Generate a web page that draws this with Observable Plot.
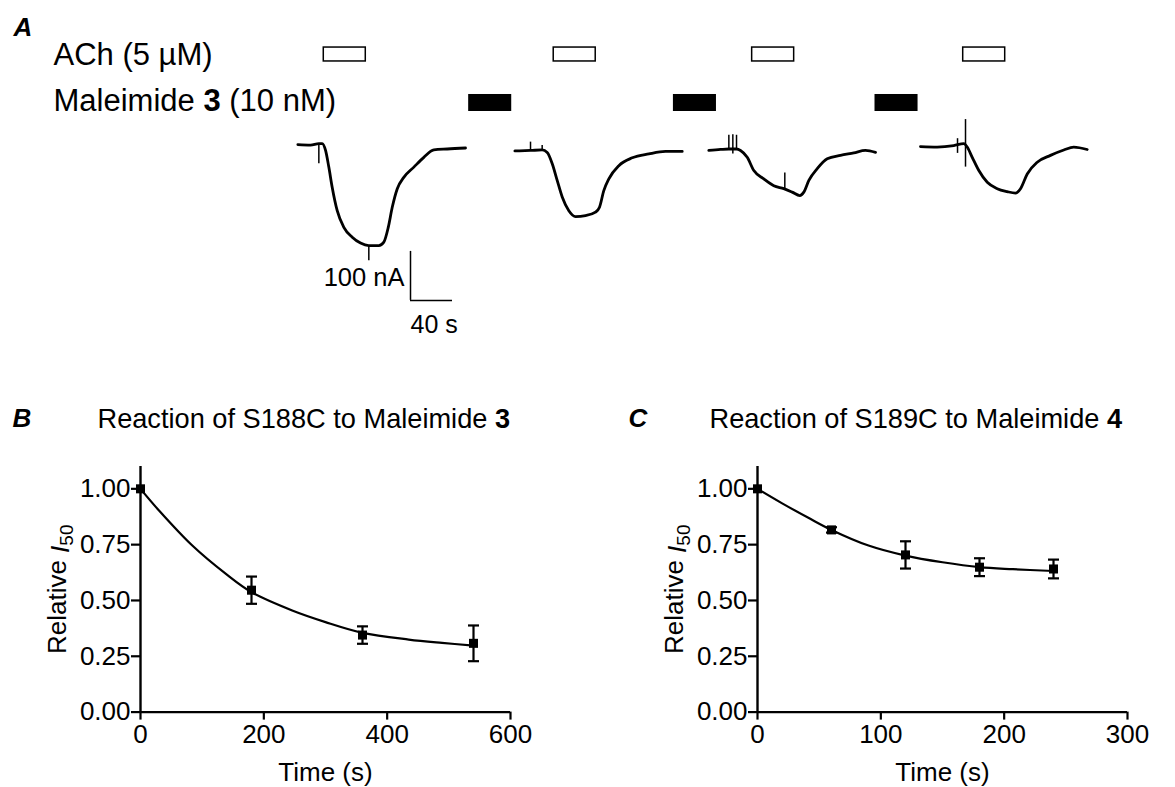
<!DOCTYPE html>
<html><head><meta charset="utf-8">
<script src="https://cdn.jsdelivr.net/npm/d3@7"></script>
<script src="https://cdn.jsdelivr.net/npm/@observablehq/plot@0.6"></script>
<style>
body{margin:0;background:#fff;}
#fig{position:relative;width:1175px;height:787px;background:#fff;overflow:hidden;}
#fig > div{position:absolute;}
</style></head><body><div id="fig"></div>
<script>
// ---------------- Panel A data (time in s, current in nA) ----------------
const sweep1T = [0.3,12.4,20.3,23.5,26.7,29.8,33.0,37.8,44.1,52.1,60.0,67.9,77.4,82.2,86.4,90.2,95.0,101.2,110.8,120.3,129.8,142.6,160.0];
const sweep1I = [8,7,10,10,-4,-38,-79,-127,-161,-181,-193,-198,-198,-191,-161,-120,-82,-59,-38,-18,-3,-1,1];
const sweep2T = [207.0,221.9,233.0,237.8,242.6,247.3,252.1,258.4,264.8,274.3,283.8,287.6,291.7,296.5,306.0,318.8,334.6,350.5,366.4];
const sweep2I = [-5,-4,-3,-8,-31,-65,-99,-127,-139,-137,-130,-120,-86,-62,-35,-19,-11,-6,-6];
const sweep3T = [391.7,402.9,410.8,418.1,421.9,428.3,434.6,444.1,453.6,463.1,471.1,478.4,482.2,487.0,495.0,504.5,517.1,529.8,540.9,550.5];
const sweep3I = [-4,-2,-1,-1,-4,-18,-45,-62,-76,-82,-89,-96,-89,-65,-41,-21,-14,-9,-4,-8];
const sweep4T = [593.3,609.2,625.0,634.6,637.8,642.6,648.9,656.9,666.4,675.9,683.8,688.6,695.0,704.5,717.1,729.8,739.3,752.1];
const sweep4I = [4,3,6,10,3,-18,-45,-69,-82,-88,-91,-82,-52,-28,-14,-3,3,-2];
// stimulus artifacts (vertical spikes)
const artifactT  = [20.3, 67.9, 221.9, 233.0, 410.8, 414.6, 418.1, 464.1, 628.6, 636.2];
const artifactI1 = [10, -198, -4, -3, -1, 28, -1, -82, 20, 59];
const artifactI2 = [-31, -229, 13, 6, 27, -11, 27, -50, -10, -38];
// drug applications
const achOn = [25, 244, 433, 634];
const achDur = 40;
const malOn = [163, 358, 550];
const malDur = 41;
const rowLabels = ["ACh (5 µM)", "Maleimide 3 (10 nM)"];
// scale bar
const scaleBarT = 107.6, scaleBarI = -310, scaleBarLenT = 40, scaleBarLenI = 100;

// ---------------- Panel B data ----------------
const bTime = [0, 180, 360, 540];
const bMean = [1.00, 0.546, 0.345, 0.308];
const bErr  = [0, 0.061, 0.039, 0.080];
const bFitT = [0, 30, 84, 138, 180, 246, 300, 360, 435, 489, 540];
const bFitY = [1.0, 0.903, 0.746, 0.620, 0.537, 0.455, 0.403, 0.355, 0.325, 0.310, 0.298];
// ---------------- Panel C data ----------------
const cTime = [0, 60, 120, 180, 240];
const cMean = [1.00, 0.816, 0.704, 0.649, 0.641];
const cErr  = [0, 0.012, 0.061, 0.040, 0.042];
const cFitT = [0, 20, 42, 60, 90, 120, 150, 180, 207, 240];
const cFitY = [1.0, 0.935, 0.868, 0.816, 0.746, 0.701, 0.671, 0.649, 0.640, 0.632];

const yTicks = [0, 0.25, 0.5, 0.75, 1.0];
const bXTicks = [0, 200, 400, 600];
const cXTicks = [0, 100, 200, 300];

const FONT = '"Liberation Sans", Arial, Helvetica, sans-serif';
const fig = document.getElementById("fig");
const NS = "http://www.w3.org/2000/svg";

function place(el, left, top) {
  const d = document.createElement("div");
  d.style.left = left + "px"; d.style.top = top + "px";
  d.appendChild(el); fig.appendChild(d);
}
function rich(svg, match, parts) {
  svg.querySelectorAll("text").forEach(t => {
    if (t.textContent === match) {
      t.textContent = "";
      for (const p of parts) {
        const ts = document.createElementNS(NS, "tspan");
        ts.textContent = p.text;
        if (p.bold) ts.setAttribute("font-weight", "bold");
        if (p.italic) ts.setAttribute("font-style", "italic");
        if (p.size) ts.setAttribute("font-size", p.size);
        if (p.dy) ts.setAttribute("dy", p.dy);
        t.appendChild(ts);
      }
    }
  });
}

// ---------------- Panel A ----------------
const traces = [];
[[sweep1T, sweep1I], [sweep2T, sweep2I], [sweep3T, sweep3I], [sweep4T, sweep4I]].forEach(([T, I], k) => {
  T.forEach((t, j) => traces.push({sweep: k + 1, t, i: I[j]}));
});
const artifacts = artifactT.map((t, j) => ({t, i1: artifactI1[j], i2: artifactI2[j]}));
const ach = achOn.map(s => ({start: s, end: s + achDur}));
const mal = malOn.map(s => ({start: s, end: s + malDur}));

const plotA = Plot.plot({
  width: 1175, height: 345, margin: 0,
  style: {background: "transparent", fontFamily: FONT, overflow: "visible"},
  x: {domain: [-282.9, 836.2], axis: null},
  y: {domain: [-402, 302], axis: null},
  marks: [
    Plot.rect(ach, {x1: "start", x2: "end", y1: 177.6, y2: 206, fill: "white", stroke: "black", strokeWidth: 1.5}),
    Plot.rect(mal, {x1: "start", x2: "end", y1: 75.5, y2: 110.2, fill: "black"}),
    Plot.line(traces, {x: "t", y: "i", z: "sweep", stroke: "black", strokeWidth: 2.8, curve: "monotone-x"}),
    Plot.ruleX(artifacts, {x: "t", y1: "i1", y2: "i2", stroke: "black", strokeWidth: 1.5}),
    Plot.ruleX([scaleBarT], {x: d => d, y1: scaleBarI, y2: scaleBarI + scaleBarLenI, strokeWidth: 1.5}),
    Plot.ruleY([scaleBarI], {y: d => d, x1: scaleBarT, x2: scaleBarT + scaleBarLenT, strokeWidth: 1.5}),
    Plot.text([`${scaleBarLenI} nA`], {x: scaleBarT, y: scaleBarI + 30, dx: -6, textAnchor: "end", lineAnchor: "bottom", fontSize: 25.5, fill: "black"}),
    Plot.text([`${scaleBarLenT} s`], {x: scaleBarT, y: scaleBarI, dy: 33, textAnchor: "start", lineAnchor: "bottom", fontSize: 25, fill: "black"}),
    Plot.text([rowLabels[0]], {x: -232.4, y: 171.4, textAnchor: "start", lineAnchor: "bottom", fontSize: 31, fill: "black"}),
    Plot.text([rowLabels[1]], {x: -232.4, y: 75.5, textAnchor: "start", lineAnchor: "bottom", fontSize: 31, fill: "black"}),
    Plot.text(["A"], {x: -270.5, y: 228.6, textAnchor: "start", lineAnchor: "bottom", fontSize: 26, fontWeight: "bold", fontStyle: "italic", fill: "black"})
  ]
});
rich(plotA, "Maleimide 3 (10 nM)", [{text: "Maleimide "}, {text: "3", bold: true}, {text: " (10 nM)"}]);
place(plotA, 0, 0);

// ---------------- Panels B & C ----------------
const capSymbol = {draw(ctx) { ctx.moveTo(-5.5, 0); ctx.lineTo(5.5, 0); }};

function kinetics({time, mean, err, fitT, fitY, xTicks, xMax, letter, title, left, width, mLeft, mRight, letterDx, titleDx}) {
  const pts = time.map((t, j) => ({t, m: mean[j], e: err[j]}));
  const errPts = pts.filter(d => d.e > 0);
  const fit = fitT.map((t, j) => ({t, y: fitY[j]}));
  const p = Plot.plot({
    width, height: 397, marginLeft: mLeft, marginRight: mRight, marginTop: 76, marginBottom: 75.4,
    style: {background: "transparent", fontFamily: FONT, overflow: "visible", color: "black"},
    x: {domain: [0, xMax]},
    y: {domain: [0, 1.1]},
    marks: [
      Plot.axisX({ticks: xTicks, tickSize: 8, tickPadding: 4, fontSize: 26, strokeWidth: 2.2, label: null, stroke: "black", fill: "black"}),
      Plot.axisY({ticks: yTicks, tickFormat: ".2f", tickSize: 9, tickPadding: 1, fontSize: 26, strokeWidth: 2.2, label: null, stroke: "black", fill: "black"}),
      Plot.ruleY([0], {stroke: "black", strokeWidth: 2.4}),
      Plot.ruleX([0], {stroke: "black", strokeWidth: 2.4}),
      Plot.line(fit, {x: "t", y: "y", curve: "catmull-rom", stroke: "black", strokeWidth: 2.2}),
      Plot.ruleX(errPts, {x: "t", y1: d => d.m - d.e, y2: d => d.m + d.e, stroke: "black", strokeWidth: 2.2}),
      Plot.dot(errPts, {x: "t", y: d => d.m + d.e, symbol: capSymbol, r: 5, fill: "none", stroke: "black", strokeWidth: 2.2}),
      Plot.dot(errPts, {x: "t", y: d => d.m - d.e, symbol: capSymbol, r: 5, fill: "none", stroke: "black", strokeWidth: 2.2}),
      Plot.dot(pts, {x: "t", y: "m", symbol: "square", r: 5.1, fill: "black", stroke: "none"}),
      Plot.text([letter], {frameAnchor: "top-left", dx: letterDx, dy: -40, textAnchor: "start", lineAnchor: "bottom", fontSize: 26, fontWeight: "bold", fontStyle: "italic", fill: "black"}),
      Plot.text([title], {frameAnchor: "top-left", dx: titleDx, dy: -39, textAnchor: "start", lineAnchor: "bottom", fontSize: 27.2, fill: "black"}),
      Plot.text(["Relative I50"], {frameAnchor: "left", dx: -75, rotate: -90, textAnchor: "middle", lineAnchor: "bottom", fontSize: 26, fill: "black"}),
      Plot.text(["Time (s)"], {frameAnchor: "bottom", dy: 68.4, textAnchor: "middle", lineAnchor: "bottom", fontSize: 26, fill: "black"})
    ]
  });
  rich(p, title, [{text: title.slice(0, -1)}, {text: title.slice(-1), bold: true}]);
  rich(p, "Relative I50", [{text: "Relative "}, {text: "I", italic: true, dy: "0.15em"}, {text: "50", size: 19, dy: "0.2em"}]);
  place(p, left, 390);
}

kinetics({time: bTime, mean: bMean, err: bErr, fitT: bFitT, fitY: bFitY, xTicks: bXTicks, xMax: 600,
  letter: "B", title: "Reaction of S188C to Maleimide 3", left: 0, width: 560, mLeft: 140, mRight: 50, letterDx: -128, titleDx: -43});
kinetics({time: cTime, mean: cMean, err: cErr, fitT: cFitT, fitY: cFitY, xTicks: cXTicks, xMax: 300,
  letter: "C", title: "Reaction of S189C to Maleimide 4", left: 600, width: 575, mLeft: 157, mRight: 48, letterDx: -129, titleDx: -48});
</script></body></html>
